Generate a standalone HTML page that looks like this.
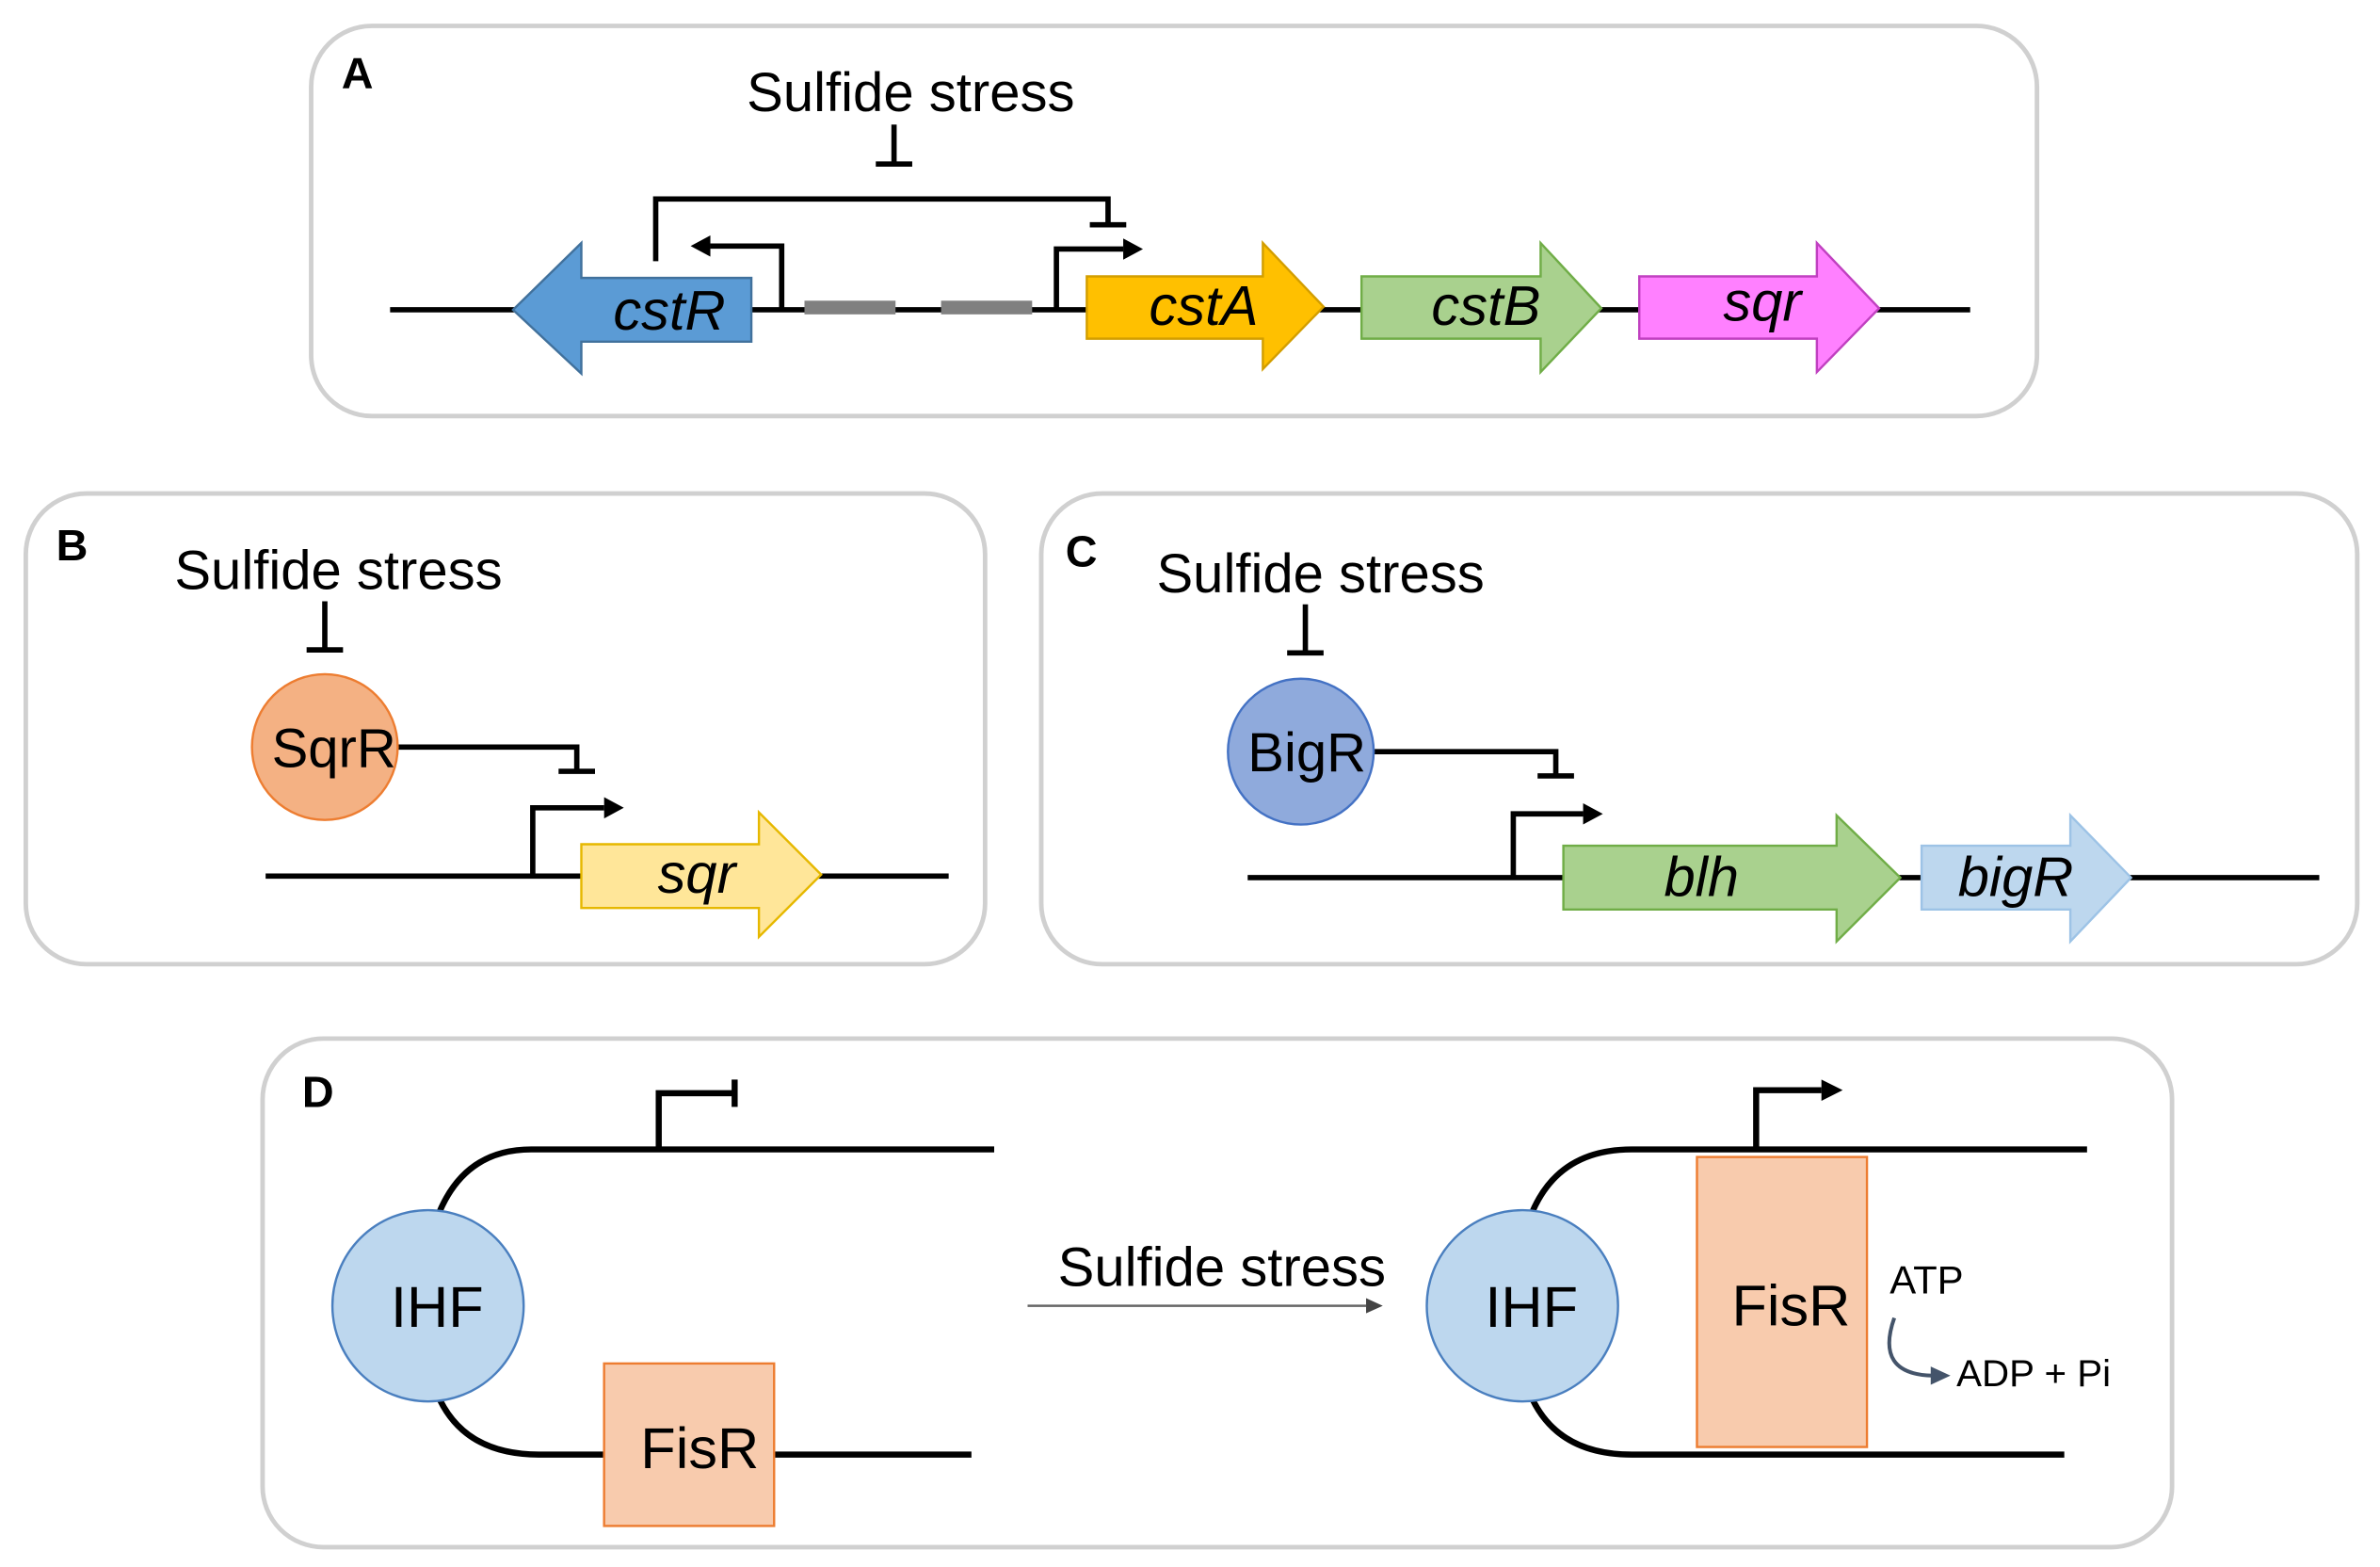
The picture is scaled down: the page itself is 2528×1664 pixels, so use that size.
<!DOCTYPE html>
<html><head><meta charset="utf-8"><style>html,body{margin:0;padding:0;background:#fff}svg{display:block}</style></head>
<body>
<svg width="2528" height="1664" viewBox="0 0 1568 1032" xmlns="http://www.w3.org/2000/svg" font-family="Liberation Sans, sans-serif">
<g fill="none" stroke="#d0d0d0" stroke-width="3">
<rect x="205" y="17" width="1137" height="257" rx="40"/>
<rect x="17" y="325" width="632" height="310" rx="40"/>
<rect x="686" y="325" width="867" height="310" rx="40"/>
<rect x="173" y="684" width="1258" height="335" rx="40"/>
</g>
<g font-weight="bold" font-size="29" fill="#000">
<text x="225" y="58">A</text><text x="37" y="369">B</text><text x="702" y="373">C</text><text x="199" y="729">D</text>
</g>
<!-- Panel A -->
<text x="600" y="73" font-size="36" text-anchor="middle">Sulfide stress</text>
<g stroke="#000" stroke-width="3.5" fill="none">
<line x1="589" y1="82" x2="589" y2="108"/><line x1="577" y1="108" x2="601" y2="108"/>
<polyline points="432,172 432,131 730,131 730,148"/><line x1="718" y1="148" x2="742" y2="148"/>
<line x1="257" y1="204" x2="1298" y2="204"/>
<polyline points="515,204 515,162 468,162"/>
<polyline points="696,204 696,164 740,164"/>
</g>
<path d="M455,162 L468,155 L468,169 z" fill="#000"/>
<path d="M753,164 L740,157 L740,171 z" fill="#000"/>
<rect x="530" y="198" width="60" height="9" fill="#808080"/>
<rect x="620" y="198" width="60" height="9" fill="#808080"/>
<path d="M338,204 L383,160 L383,183 L495,183 L495,225 L383,225 L383,246 z" fill="#5b9bd5" stroke="#41719c" stroke-width="1.5"/>
<path d="M716,182 L832,182 L832,160 L872,202 L832,243 L832,223 L716,223 z" fill="#ffc000" stroke="#d39e00" stroke-width="1.5"/>
<path d="M897,182 L1015,182 L1015,160 L1055,203 L1015,245 L1015,223 L897,223 z" fill="#a9d18e" stroke="#70ad47" stroke-width="1.5"/>
<path d="M1080,182 L1197,182 L1197,160 L1238,203 L1197,245 L1197,223 L1080,223 z" fill="#ff80ff" stroke="#c040c0" stroke-width="1.5"/>
<g font-size="37" font-style="italic" text-anchor="middle" fill="#000">
<text x="441" y="217">cstR</text><text x="793" y="214">cstA</text><text x="979" y="214">cstB</text><text x="1161" y="211">sqr</text>
</g>
<!-- Panel B -->
<text x="223" y="388" font-size="36" text-anchor="middle">Sulfide stress</text>
<g stroke="#000" stroke-width="3.5" fill="none">
<line x1="214" y1="396" x2="214" y2="428"/><line x1="202" y1="428" x2="226" y2="428"/>
<polyline points="262,492 380,492 380,508"/><line x1="368" y1="508" x2="392" y2="508"/>
<line x1="175" y1="577" x2="625" y2="577"/>
<polyline points="351,577 351,532 398,532"/>
</g>
<path d="M411,532 L398,525 L398,539 z" fill="#000"/>
<circle cx="214" cy="492" r="48" fill="#f4b183" stroke="#ed7d31" stroke-width="1.5"/>
<text x="220" y="505" font-size="36" text-anchor="middle">SqrR</text>
<path d="M383,556 L500,556 L500,535 L541,576 L500,617 L500,598 L383,598 z" fill="#ffe699" stroke="#e6b800" stroke-width="1.5"/>
<text x="459" y="588" font-size="37" font-style="italic" text-anchor="middle">sqr</text>
<!-- Panel C -->
<text x="870" y="390" font-size="36" text-anchor="middle">Sulfide stress</text>
<g stroke="#000" stroke-width="3.5" fill="none">
<line x1="860" y1="398" x2="860" y2="430"/><line x1="848" y1="430" x2="872" y2="430"/>
<polyline points="905,495 1025,495 1025,511"/><line x1="1013" y1="511" x2="1037" y2="511"/>
<line x1="822" y1="578" x2="1528" y2="578"/>
<polyline points="997,578 997,536 1043,536"/>
</g>
<path d="M1056,536 L1043,529 L1043,543 z" fill="#000"/>
<circle cx="857" cy="495" r="48" fill="#8faadc" stroke="#4472c4" stroke-width="1.5"/>
<text x="861" y="508" font-size="36" text-anchor="middle">BigR</text>
<path d="M1030,557 L1210,557 L1210,537 L1252,578 L1210,620 L1210,599 L1030,599 z" fill="#a9d18e" stroke="#70ad47" stroke-width="1.5"/>
<path d="M1266,557 L1364,557 L1364,537 L1404,578 L1364,620 L1364,599 L1266,599 z" fill="#bdd7ee" stroke="#9dc3e6" stroke-width="1.5"/>
<g font-size="37" font-style="italic" text-anchor="middle">
<text x="1121" y="590">blh</text><text x="1328" y="590">bigR</text>
</g>
<!-- Panel D -->
<g stroke="#000" stroke-width="4" fill="none">
<path d="M288,802 Q305,757 350,757 L655,757"/>
<path d="M288,918 Q305,958 355,958 L640,958"/>
<polyline points="434,757 434,720 484,720"/><line x1="484" y1="711" x2="484" y2="729"/>
<path d="M1008,802 Q1025,757 1075,757 L1375,757"/>
<path d="M1008,918 Q1025,958 1075,958 L1360,958"/>
<polyline points="1157,757 1157,718 1200,718"/>
</g>
<path d="M1214,718 L1200,711 L1200,725 z" fill="#000"/>
<circle cx="282" cy="860" r="63" fill="#bdd7ee" stroke="#4a7fbf" stroke-width="1.5"/>
<text x="288" y="874" font-size="38" text-anchor="middle">IHF</text>
<rect x="398" y="898" width="112" height="107" fill="#f8cbad" stroke="#ed7d31" stroke-width="1.5"/>
<text x="461" y="967" font-size="38" text-anchor="middle">FisR</text>
<line x1="677" y1="860" x2="900" y2="860" stroke="#666" stroke-width="1.5"/>
<path d="M911,860 L900,855 L900,865 z" fill="#444"/>
<text x="805" y="847" font-size="36" text-anchor="middle">Sulfide stress</text>
<circle cx="1003" cy="860" r="63" fill="#bdd7ee" stroke="#4a7fbf" stroke-width="1.5"/>
<text x="1009" y="874" font-size="38" text-anchor="middle">IHF</text>
<rect x="1118" y="762" width="112" height="191" fill="#f8cbad" stroke="#ed7d31" stroke-width="1.5"/>
<text x="1180" y="873" font-size="38" text-anchor="middle">FisR</text>
<text x="1245" y="852" font-size="26">ATP</text>
<path d="M1248,868 Q1235,905 1273,906" stroke="#44546a" stroke-width="2.5" fill="none"/>
<path d="M1285,906 L1272,900 L1272,912 z" fill="#44546a"/>
<text x="1289" y="913" font-size="25">ADP + Pi</text>
</svg>
</body></html>
